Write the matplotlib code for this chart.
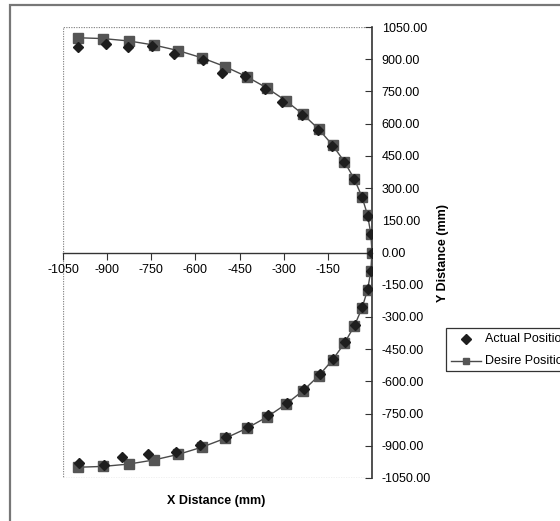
import matplotlib.pyplot as plt
from matplotlib.patches import Rectangle
from matplotlib.lines import Line2D

plt.rcParams['font.family'] = ['Liberation Sans', 'DejaVu Sans']

# desired path (mm)
desired_x = [-1000, -913, -826, -741, -658, -577, -500, -426, -357, -293, -234, -181, -134, -94, -60, -34, -15, -4, 0,
             -4, -15, -34, -60, -94, -134, -181, -234, -293, -357, -426, -500, -577, -658, -741, -826, -913, -1000]
desired_y = [1000, 996, 985, 966, 940, 906, 866, 819, 766, 707, 643, 574, 500, 423, 342, 259, 174, 87, 0,
             -87, -174, -259, -342, -423, -500, -574, -643, -707, -766, -819, -866, -906, -940, -966, -985, -996, -1000]

# measured path (mm)
actual_x = [-998, -904, -830, -748, -672, -575, -510, -431, -362, -305, -237, -184, -135, -95, -61, -34, -15, -4, 0,
            -3, -14, -33, -58, -92, -131, -178, -231, -290, -352, -420, -495, -584, -666, -760, -850, -912, -995]
actual_y = [955, 970, 955, 960, 925, 895, 838, 822, 762, 700, 640, 572, 498, 420, 340, 257, 172, 86, 0,
            -86, -170, -255, -338, -418, -494, -568, -636, -700, -758, -812, -860, -896, -928, -940, -954, -990, -980]

x_ticks = [-1050, -900, -750, -600, -450, -300, -150]
y_ticks = [1050, 900, 750, 600, 450, 300, 150, 0, -150, -300, -450, -600, -750, -900, -1050]

W, H = 560, 521
fig = plt.figure(figsize=(W / 100, H / 100), dpi=100)

# outer chart frame
fig.patches.append(Rectangle((10 / W, -0.1), 1.2, 1 - 5 / H + 0.1, transform=fig.transFigure,
                             fill=False, edgecolor='#777777', linewidth=1.6))

ax = fig.add_axes([63 / W, 1 - 478 / H, (372 - 63) / W, (478 - 27) / H])
ax.set_xlim(-1050, 0)
ax.set_ylim(-1050, 1050)

# dotted plot-area border
ax.add_patch(Rectangle((0, 0), 1, 1, transform=ax.transAxes, fill=False,
                       edgecolor='#888888', linestyle=(0, (1, 1)), linewidth=0.9, zorder=0))

ax.spines['top'].set_visible(False)
ax.spines['left'].set_visible(False)
ax.spines['bottom'].set_position(('data', 0))
ax.spines['bottom'].set_color('#333333')
ax.spines['right'].set_color('#333333')
ax.spines['bottom'].set_linewidth(1.0)
ax.spines['right'].set_linewidth(1.2)

ax.set_xticks(x_ticks)
ax.set_xticklabels([str(t) for t in x_ticks])
ax.tick_params(axis='x', direction='out', length=5, width=0.8, color='#333333', pad=3, labelsize=9)

ax.yaxis.tick_right()
ax.set_yticks(y_ticks)
ax.set_yticklabels([f"{t:.2f}" for t in y_ticks])
ax.tick_params(axis='y', direction='in', length=5, width=0.8, color='#333333', pad=7, labelsize=9)

ax.plot(desired_x, desired_y, color='#4a4a4a', linewidth=1.0, marker='s', markersize=6.5,
        markerfacecolor='#555555', markeredgecolor='#555555', zorder=3)
ax.plot(actual_x, actual_y, linestyle='none', marker='D', markersize=5.5,
        markerfacecolor='#1e1e1e', markeredgecolor='#1e1e1e', zorder=4)

fig.text(216 / W, 1 - 501 / H, 'X Distance (mm)', ha='center', va='center', fontsize=9, fontweight='bold')
fig.text(443 / W, 1 - 253 / H, 'Y Distance (mm)', ha='center', va='center', rotation=90,
         fontsize=9, fontweight='bold')

# legend box, running off the right edge
fig.patches.append(Rectangle((446 / W, 1 - 371 / H), 0.5, (371 - 328) / H, transform=fig.transFigure,
                             fill=False, edgecolor='#333333', linewidth=0.9))
fig.lines.append(Line2D([466 / W], [1 - 339 / H], transform=fig.transFigure, linestyle='none',
                        marker='D', markersize=5, color='#1e1e1e'))
fig.lines.append(Line2D([451 / W, 481 / W], [1 - 361 / H, 1 - 361 / H], transform=fig.transFigure,
                        color='#4a4a4a', linewidth=1.0))
fig.lines.append(Line2D([466 / W], [1 - 361 / H], transform=fig.transFigure, linestyle='none',
                        marker='s', markersize=5, color='#555555'))
fig.text(485 / W, 1 - 339 / H, 'Actual Position', ha='left', va='center', fontsize=9)
fig.text(485 / W, 1 - 361 / H, 'Desire Position', ha='left', va='center', fontsize=9)

fig.savefig('out.png', dpi=100)
